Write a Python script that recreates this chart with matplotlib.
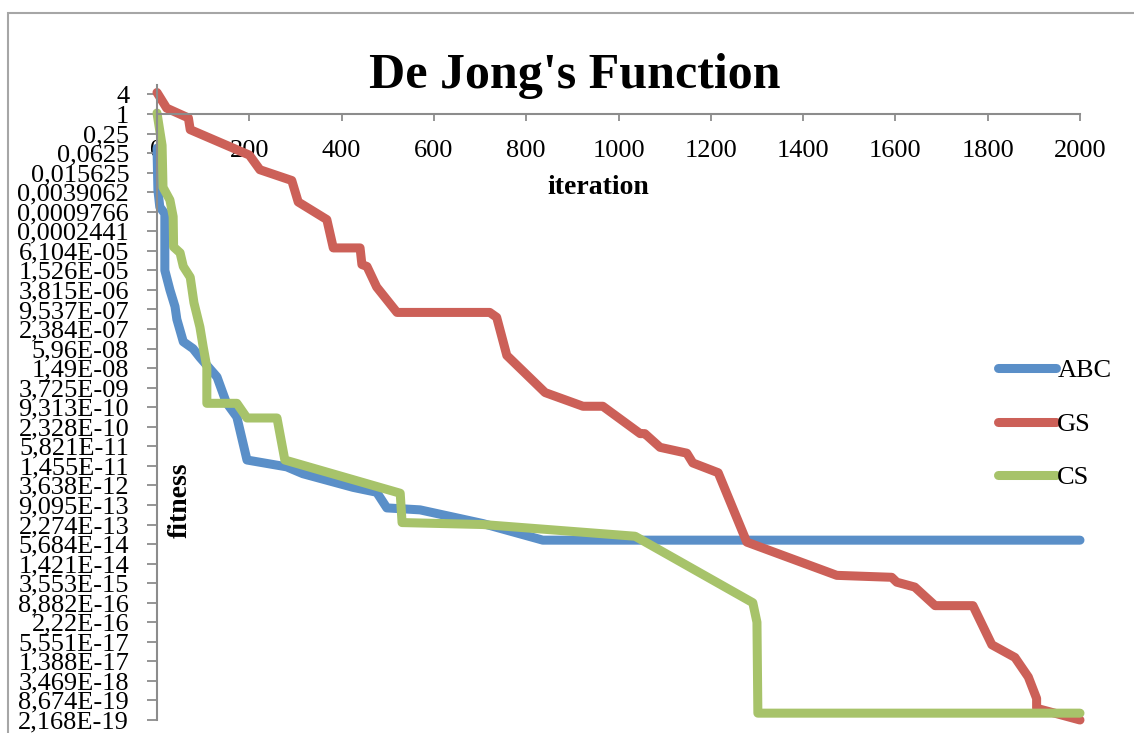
import numpy as np
import matplotlib
matplotlib.use("Agg")
from matplotlib import pyplot as plt
from matplotlib.patches import Rectangle

# iteration / log2(fitness) breakpoints
abc_iter = [0, 2, 6, 17, 17, 28, 39, 43, 57, 78, 93, 130, 150, 173, 195, 281, 316, 425, 476, 498, 570, 706, 836, 2000]
abc_log2 = [-3.5, -7.8, -9.5, -10.2, -16.0, -18.0, -19.7, -21.0, -23.3, -24.0, -24.9, -26.9, -29.5, -31.0, -35.4,
            -36.1, -36.8, -38.2, -38.7, -40.3, -40.5, -41.9, -43.6, -43.6]

gs_iter = [0, 21, 68, 72, 200, 223, 292, 306, 368, 382, 440, 444, 455, 476, 520, 721, 736, 758, 841, 923, 966,
           1047, 1057, 1090, 1148, 1161, 1216, 1278, 1473, 1592, 1603, 1642, 1686, 1768, 1809, 1859, 1888, 1906,
           1906, 2000]
gs_log2 = [2.2, 0.6, -0.4, -1.6, -4.2, -5.7, -6.8, -9.0, -10.8, -13.7, -13.7, -15.4, -15.6, -17.7, -20.3, -20.3,
           -20.8, -24.7, -28.5, -29.9, -29.9, -32.7, -32.7, -34.1, -34.7, -35.7, -36.7, -43.8, -47.2, -47.4, -47.9,
           -48.4, -50.3, -50.3, -54.3, -55.6, -57.6, -59.8, -60.8, -62.0]

cs_iter = [0, 11, 13, 28, 35, 36, 50, 57, 72, 80, 93, 100, 108, 108, 173, 195, 260, 277, 527, 531, 706, 1036,
           1291, 1300, 1302, 2000]
cs_log2 = [0.1, -3.2, -7.5, -8.8, -10.5, -13.6, -14.2, -15.6, -16.7, -19.3, -21.8, -23.8, -25.9, -29.6, -29.6,
           -31.1, -31.1, -35.4, -38.8, -41.8, -42.0, -43.2, -50.0, -52.0, -61.3, -61.3]

series_names = ["ABC", "GS", "CS"]
series_colors = ["#5A8FC8", "#CC6058", "#A7C36A"]

ytick_labels = ["4", "1", "0,25", "0,0625", "0,015625", "0,0039062", "0,0009766", "0,0002441",
                "6,104E-05", "1,526E-05", "3,815E-06", "9,537E-07", "2,384E-07", "5,96E-08", "1,49E-08",
                "3,725E-09", "9,313E-10", "2,328E-10", "5,821E-11", "1,455E-11", "3,638E-12", "9,095E-13",
                "2,274E-13", "5,684E-14", "1,421E-14", "3,553E-15", "8,882E-16", "2,22E-16", "5,551E-17",
                "1,388E-17", "3,469E-18", "8,674E-19", "2,168E-19"]
xticks = [0, 200, 400, 600, 800, 1000, 1200, 1400, 1600, 1800, 2000]

plt.rcParams["font.family"] = ["Liberation Serif", "DejaVu Serif"]

fig = plt.figure(figsize=(11.34, 7.33), dpi=100)
ax = fig.add_axes([157 / 1134, 1 - 720 / 733, (1080 - 157) / 1134, (720 - 84.7) / 733])

data = [(abc_iter, abc_log2), (gs_iter, gs_log2), (cs_iter, cs_log2)]
for (xs, ks), name, col in zip(data, series_names, series_colors):
    ax.plot(xs, 2.0 ** np.array(ks), color=col, lw=6.5, label=name,
            solid_joinstyle="round", solid_capstyle="round", clip_on=False)

ax.set_yscale("log", base=2)
ax.set_ylim(2.0 ** -62, 2.0 ** 3)
ax.set_xlim(0, 2000)

yt = 2.0 ** np.arange(2, -63, -2)
ax.set_yticks(yt)
ax.set_yticklabels(ytick_labels)
ax.yaxis.set_minor_locator(matplotlib.ticker.NullLocator())
ax.set_xticks(xticks)
ax.set_xticklabels([str(v) for v in xticks])

axis_gray = "#8C8C8C"
for s in ["top", "right"]:
    ax.spines[s].set_visible(False)
ax.spines["left"].set_color(axis_gray)
ax.spines["left"].set_linewidth(1.5)
ax.spines["bottom"].set_position(("data", 1.0))
ax.spines["bottom"].set_color(axis_gray)
ax.spines["bottom"].set_linewidth(1.5)
ax.tick_params(axis="y", direction="out", length=7, width=1.3, color=axis_gray, pad=13, labelsize=19)
ax.tick_params(axis="x", direction="out", length=5, width=1.3, color=axis_gray, pad=14, labelsize=19)

ax.text((598 - 157) / 923, (720 - 187) / 635.3, "iteration", transform=ax.transAxes,
        ha="center", va="center", fontsize=20, fontweight="bold")
ax.text((180 - 157) / 923, (720 - 500) / 635.3, "fitness", transform=ax.transAxes,
        ha="center", va="center", rotation=90, fontsize=20, fontweight="bold")

fig.text(575 / 1134, 1 - 88 / 733, "De Jong's Function", ha="center", va="baseline",
         fontsize=36, fontweight="bold")

ax.legend(loc="upper left", bbox_to_anchor=(998 / 1134, 1 - 359 / 733), bbox_transform=fig.transFigure,
          frameon=False, fontsize=19, handlelength=2.2, handletextpad=0.05, labelspacing=1.13,
          borderpad=0, borderaxespad=0)

fig.add_artist(Rectangle((8 / 1134, -0.1), 1.2, 1.1 - 13 / 733, transform=fig.transFigure,
                         fill=False, edgecolor="#A6A6A6", lw=1.5))

fig.savefig("out.png", dpi=100)
